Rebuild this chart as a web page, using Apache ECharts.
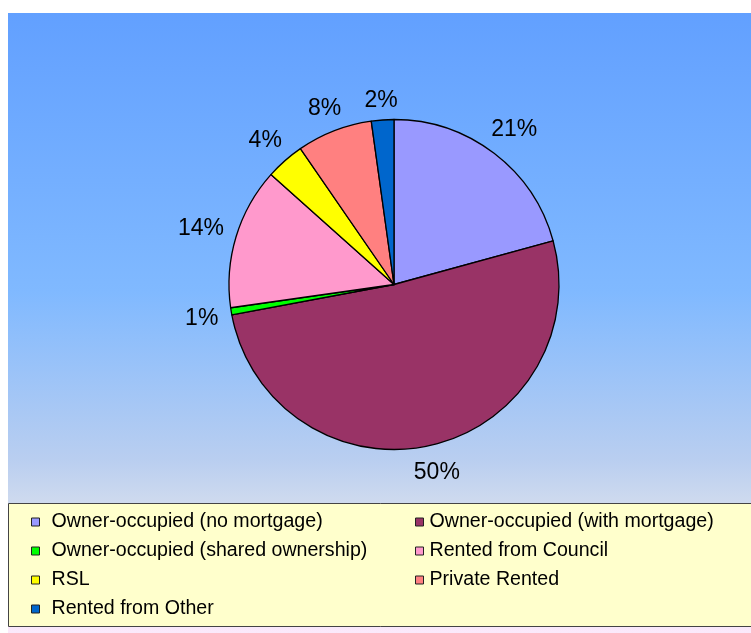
<!DOCTYPE html>
<html>
<head>
<meta charset="utf-8">
<script src="https://cdn.jsdelivr.net/npm/echarts@6/dist/echarts.min.js"></script>
<style>
  html, body { margin: 0; padding: 0; background: #fff; }
  #chart { width: 751px; height: 633px; }
</style>
</head>
<body>
<div id="chart"></div>
<script>
// tenure split
const categories = [
    'Owner-occupied (no mortgage)',
    'Owner-occupied (with mortgage)',
    'Owner-occupied (shared ownership)',
    'Rented from Council',
    'RSL',
    'Private Rented',
    'Rented from Other'
];
const shares = [20.75, 51.3, 0.7, 13.85, 3.8, 7.4, 2.2];
// percentages as printed beside each slice
const shareLabels = ['21%', '50%', '1%', '14%', '4%', '8%', '2%'];
const colors = ['#9999ff', '#993366', '#00ff00', '#ff99cc', '#ffff00', '#ff8080', '#0066cc'];

const pieCenter = [394, 284.5];
const pieRadius = 165;

const pieData = categories.map((name, i) => ({
    name: name,
    value: shares[i],
    itemStyle: { color: colors[i] }
}));

// legend is two columns, filled row by row
const leftColumn = categories.filter((c, i) => i % 2 === 0);
const rightColumn = categories.filter((c, i) => i % 2 === 1);

const legendText = {
    fontFamily: 'Liberation Sans, Arial, sans-serif',
    fontSize: 19.6,
    color: '#000',
    lineHeight: 22
};

const legendBase = {
    orient: 'vertical',
    top: 509,
    padding: 0,
    itemGap: 3,
    itemWidth: 8,
    itemHeight: 8,
    icon: 'rect',
    itemStyle: { borderColor: '#222', borderWidth: 1 }
};

const chart = echarts.init(document.getElementById('chart'));

const option = {
    animation: false,
    graphic: [
        {
            type: 'rect',
            z: -10,
            shape: { x: 8, y: 13, width: 743, height: 620 },
            style: {
                fill: new echarts.graphic.LinearGradient(0, 0, 0, 1, [
                    { offset: 0, color: '#62a0ff' },
                    { offset: 0.45, color: '#80b9ff' },
                    { offset: 0.72, color: '#b9cef0' },
                    { offset: 0.8, color: '#d2dcee' },
                    { offset: 1, color: '#fbe9fb' }
                ])
            }
        },
        {
            type: 'rect',
            z: -5,
            shape: { x: 8.5, y: 503.5, width: 750, height: 123 },
            style: { fill: '#ffffcc', stroke: '#444', lineWidth: 1 }
        }
    ],
    legend: [
        Object.assign({}, legendBase, {
            data: leftColumn,
            left: 31,
            textStyle: Object.assign({ padding: [0, 0, 4, 7] }, legendText)
        }),
        Object.assign({}, legendBase, {
            data: rightColumn,
            left: 415,
            textStyle: Object.assign({ padding: [0, 0, 4, 1] }, legendText)
        })
    ],
    series: [
        {
            type: 'pie',
            center: pieCenter,
            radius: pieRadius,
            startAngle: 90,
            clockwise: true,
            silent: true,
            label: { show: false },
            labelLine: { show: false },
            itemStyle: { borderColor: '#000', borderWidth: 1.3 },
            data: pieData
        },
        {
            // transparent ring only used to place the percentage labels
            type: 'pie',
            center: pieCenter,
            radius: [184, 200],
            startAngle: 90,
            clockwise: true,
            silent: true,
            itemStyle: { color: 'transparent', borderWidth: 0 },
            label: {
                show: true,
                position: 'inside',
                formatter: p => shareLabels[p.dataIndex],
                fontFamily: 'Liberation Sans, Arial, sans-serif',
                fontSize: 23,
                color: '#000'
            },
            labelLine: { show: false },
            // push each label out so its nearest edge sits just off the rim
            labelLayout: function (p) {
                const r = p.labelRect;
                const dx = r.x + r.width / 2 - pieCenter[0];
                const dy = r.y + r.height / 2 - pieCenter[1];
                const len = Math.sqrt(dx * dx + dy * dy);
                const ux = dx / len, uy = dy / len;
                const t = pieRadius + 12 + Math.abs(ux) * r.width / 2 + Math.abs(uy) * 9;
                return { x: pieCenter[0] + ux * t, y: pieCenter[1] + uy * t + 2.5 };
            },
            data: pieData.map(d => ({ name: d.name, value: d.value, itemStyle: { color: 'transparent' } }))
        }
    ]
};

chart.setOption(option);
</script>
</body>
</html>
